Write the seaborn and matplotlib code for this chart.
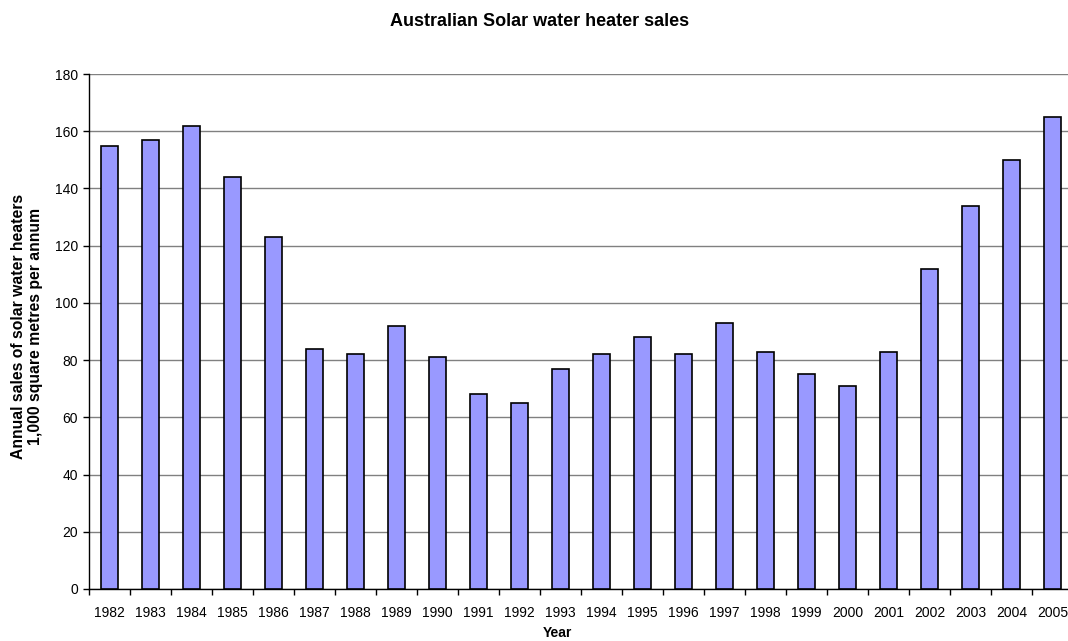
import pandas as pd
import matplotlib
matplotlib.use("Agg")
import matplotlib.pyplot as plt
import seaborn as sns

# Annual sales, 1,000 m2 per annum
years = [str(y) for y in range(1982, 2006)]
sales = [155, 157, 162, 144, 123, 84, 82, 92, 81, 68, 65, 77,
         82, 88, 82, 93, 83, 75, 71, 83, 112, 134, 150, 165]
y_ticks = list(range(0, 181, 20))

data = pd.DataFrame({'year': years, 'sales': sales})

sns.set_style('white')
plt.rcParams['font.family'] = ['Liberation Sans', 'DejaVu Sans']
plt.rcParams['text.color'] = 'black'
plt.rcParams['xtick.color'] = 'black'
plt.rcParams['ytick.color'] = 'black'

fig = plt.figure(figsize=(10.68, 6.41), dpi=100)
ax = fig.add_axes([89 / 1068, 52 / 641, 984 / 1068, 515 / 641])

sns.barplot(x='year', y='sales', data=data, color='#9999FF', saturation=1,
            width=0.4, edgecolor='black', linewidth=1.2, ax=ax, zorder=3)

ax.set_xlim(-0.5, len(years) - 0.5)
ax.set_ylim(0, 180)
ax.set_yticks(y_ticks)
ax.yaxis.grid(True, color='#808080', linewidth=1, zorder=0)
ax.set_axisbelow(True)

# tick marks between categories, labels centred under bars
ax.set_xticks([i - 0.5 for i in range(len(years) + 1)], minor=True)
ax.tick_params(axis='x', which='major', length=0, labelsize=10, pad=12)
ax.tick_params(axis='x', which='minor', length=4, width=1, color='black', direction='out')
ax.tick_params(axis='y', length=4, width=1, color='black', direction='out', labelsize=10, pad=4)
ax.tick_params(bottom=True, left=True, which='both')

for s in ['top', 'right']:
    ax.spines[s].set_visible(False)
for s in ['left', 'bottom']:
    ax.spines[s].set_color('black')
    ax.spines[s].set_linewidth(1)

ax.set_xlabel('')
ax.set_ylabel('')
fig.text(540 / 1068, 1 - 22 / 641, 'Australian Solar water heater sales',
         ha='center', va='center', fontsize=13, fontweight='bold')
fig.text(557 / 1068, 1 - 633 / 641, 'Year', ha='center', va='center',
         fontsize=10, fontweight='bold')
fig.text(27 / 1068, 1 - 326 / 641,
         'Annual sales of solar water heaters\n1,000 square metres per annum',
         ha='center', va='center', rotation=90, fontsize=11.3, fontweight='bold',
         linespacing=1.1)

fig.savefig('out.png', dpi=100)
